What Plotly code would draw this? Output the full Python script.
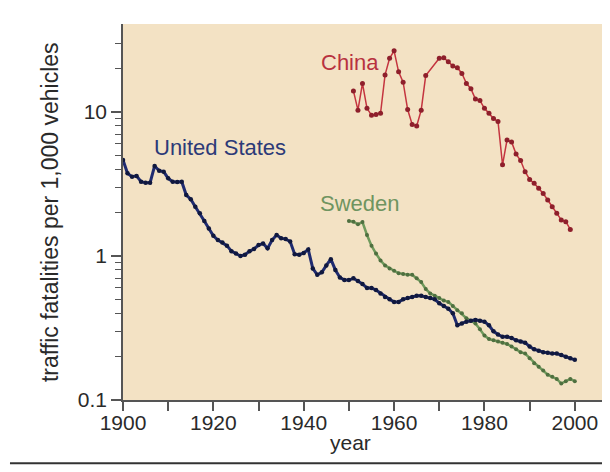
import math
import plotly.graph_objects as go

us_years = list(range(1900, 2001))
us_values = [4.64, 3.75, 3.55, 3.6, 3.28, 3.23, 3.23, 4.22, 3.91, 3.85,
             3.46, 3.28, 3.26, 3.28, 2.65, 2.48, 2.2, 1.98, 1.75, 1.55,
             1.38, 1.29, 1.24, 1.18, 1.08, 1.04, 1.0, 1.02, 1.08, 1.12,
             1.19, 1.22, 1.13, 1.29, 1.40, 1.33, 1.31, 1.26, 1.03, 1.02,
             1.05, 1.11, 0.82, 0.74, 0.77, 0.86, 0.95, 0.80, 0.71, 0.68,
             0.68, 0.70, 0.67, 0.64, 0.60, 0.60, 0.58, 0.55, 0.52, 0.50,
             0.48, 0.48, 0.50, 0.51, 0.52, 0.53, 0.53, 0.52, 0.51, 0.50,
             0.47, 0.45, 0.43, 0.40, 0.33, 0.34, 0.35, 0.355, 0.36, 0.355,
             0.35, 0.33, 0.30, 0.285, 0.275, 0.275, 0.27, 0.26, 0.255, 0.25,
             0.235, 0.225, 0.22, 0.215, 0.213, 0.21, 0.21, 0.205, 0.20, 0.195,
             0.19]

sweden_years = list(range(1950, 2001))
sweden_values = [1.75, 1.73, 1.66, 1.72, 1.40, 1.18, 1.04, 0.93, 0.86, 0.82,
                 0.79, 0.76, 0.75, 0.74, 0.74, 0.70, 0.66, 0.59, 0.55, 0.53,
                 0.51, 0.49, 0.48, 0.45, 0.42, 0.40, 0.37, 0.355, 0.34, 0.31,
                 0.28, 0.265, 0.26, 0.255, 0.25, 0.245, 0.235, 0.225, 0.215, 0.21,
                 0.195, 0.18, 0.17, 0.16, 0.15, 0.145, 0.14, 0.13, 0.135, 0.14,
                 0.135]

china_years = [1951, 1952, 1953, 1954, 1955, 1956, 1957, 1958, 1959, 1960,
               1961, 1962, 1963, 1964, 1965, 1966, 1967, 1970, 1971, 1972,
               1973, 1974, 1975, 1976, 1977, 1978, 1979, 1980, 1981, 1982,
               1983, 1984, 1985, 1986, 1987, 1988, 1989, 1990, 1991, 1992,
               1993, 1994, 1995, 1996, 1997, 1998, 1999]
china_values = [14.0, 10.3, 15.8, 10.6, 9.5, 9.6, 9.8, 18.1, 23.6, 26.6,
                19.0, 16.1, 10.4, 8.2, 8.0, 10.3, 17.9, 23.6, 23.8, 22.3,
                20.9, 20.3, 18.5, 15.8, 14.5, 12.3, 12.0, 10.6, 9.8, 9.0,
                8.6, 4.3, 6.4, 6.2, 5.1, 4.6, 3.85, 3.4, 3.2, 2.95,
                2.72, 2.45, 2.2, 1.98, 1.78, 1.73, 1.53]

series_labels = ["United States", "China", "Sweden"]
label_years = [1921.5, 1950.2, 1952.4]
label_values = [5.7, 22.2, 2.33]
label_colors = ["#2c3a78", "#b8323f", "#6f9460"]

x_tick_years = [1900, 1920, 1940, 1960, 1980, 2000]
y_tick_values = [0.1, 1, 10]
y_tick_labels = ["0.1", "1", "10"]
x_title = "year"
y_title = "traffic fatalities per 1,000 vehicles"

FONT = "Liberation Sans, Arial, Helvetica, sans-serif"

fig = go.Figure()
fig.add_trace(go.Scatter(x=sweden_years, y=sweden_values, mode="lines+markers",
                         line=dict(color="#6f9a5c", width=2.5),
                         marker=dict(color="#4f7040", size=4), showlegend=False))
fig.add_trace(go.Scatter(x=us_years, y=us_values, mode="lines+markers",
                         line=dict(color="#1f2b70", width=3),
                         marker=dict(color="#10183e", size=4.5), showlegend=False))
fig.add_trace(go.Scatter(x=china_years, y=china_values, mode="lines+markers",
                         line=dict(color="#c4343f", width=1.5),
                         marker=dict(color="#8e1f2b", size=5), showlegend=False))

for text, xv, yv, col in zip(series_labels, label_years, label_values, label_colors):
    fig.add_annotation(x=xv, y=math.log10(yv), text=text, showarrow=False,
                       font=dict(family=FONT, size=22, color=col))

fig.add_annotation(xref="paper", yref="paper", x=0.47, y=-0.112, text=x_title,
                   showarrow=False, xanchor="center", yanchor="middle",
                   font=dict(family=FONT, size=21, color="#2a2a2a"))
fig.add_annotation(xref="paper", yref="paper", x=-0.151, y=0.5, text=y_title,
                   showarrow=False, textangle=-90, xanchor="center", yanchor="middle",
                   font=dict(family=FONT, size=23, color="#2a2a2a"))

fig.update_layout(
    width=610, height=472,
    margin=dict(l=115, r=12, t=16, b=80),
    paper_bgcolor="white",
    plot_bgcolor="#f3e2c4",
    font=dict(family=FONT, size=21, color="#2a2a2a"),
    xaxis=dict(range=[1900, 2006.9], tickvals=x_tick_years,
               ticks="outside", ticklen=9, tickwidth=1.5, tickcolor="#555",
               showline=True, linecolor="#555", linewidth=1.5,
               showgrid=False, zeroline=False, automargin=False,
               ticklabelstandoff=-6,
               minor=dict(dtick=10, ticks="outside", ticklen=9, tickwidth=1.5, tickcolor="#555"),
               tickfont=dict(size=21)),
    yaxis=dict(type="log", range=[-1, 1.611], tickvals=y_tick_values,
               ticktext=y_tick_labels,
               ticks="outside", ticklen=10, tickwidth=1.5, tickcolor="#555",
               showline=True, linecolor="#555", linewidth=1.5,
               showgrid=False, zeroline=False, automargin=False,
               minor=dict(tickvals=[0.2, 0.3, 0.4, 0.5, 0.6, 0.7, 0.8, 0.9,
                                    2, 3, 4, 5, 6, 7, 8, 9, 20, 30],
                          ticks="outside", ticklen=6, tickwidth=1.2, tickcolor="#555"),
               tickfont=dict(size=21)),
)

fig.add_shape(type="line", xref="paper", yref="paper", x0=1.002, x1=1.002, y0=0, y1=1.07,
              line=dict(color="#222", width=2))
fig.add_shape(type="line", xref="paper", yref="paper", x0=-0.234, x1=1.03, y0=-0.168, y1=-0.168,
              line=dict(color="#333", width=2))

fig.write_html("out.html")
